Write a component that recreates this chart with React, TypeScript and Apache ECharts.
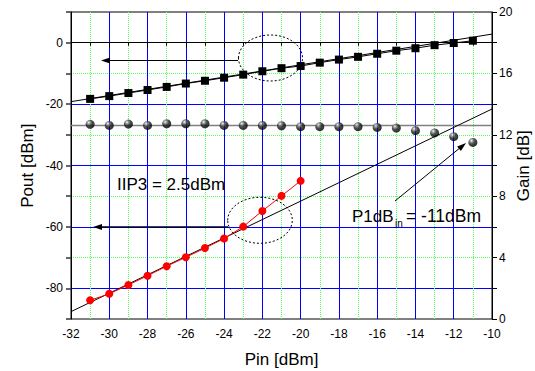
import React, { useEffect, useRef } from "react";
import * as echarts from "echarts";

const FONT = "Liberation Sans, Arial, sans-serif";

// Fundamental output (squares, left axis)
const pinFund = [-31, -30, -29, -28, -27, -26, -25, -24, -23, -22, -21, -20, -19, -18, -17, -16, -15, -14, -13, -12, -11];
const poutFund = [-18.3, -17.4, -16.4, -15.4, -14.4, -13.3, -12.4, -11.4, -10.4, -9.3, -8.3, -7.6, -6.5, -5.5, -4.6, -3.6, -2.6, -1.8, -0.8, -0.1, 0.65];
// Gain (spheres, right axis)
const gainDb = [12.68, 12.61, 12.7, 12.61, 12.72, 12.72, 12.72, 12.61, 12.61, 12.61, 12.59, 12.53, 12.53, 12.53, 12.53, 12.48, 12.44, 12.27, 12.12, 11.88, 11.5];
// Third-order intermod output (red, left axis)
const pinIM3 = [-31, -30, -29, -28, -27, -26, -25, -24, -23, -22, -21, -20];
const poutIM3 = [-83.9, -81.8, -78.9, -75.9, -72.8, -69.9, -66.9, -63.8, -59.9, -54.8, -49.9, -45.0];
// Extrapolation lines
const fitFundX = [-32, -10];
const fitFundY = [-19.2, 2.8];
const fitIM3X = [-32, -10];
const fitIM3Y = [-87.6, -21.6];
const gainRefX = [-32, -10];
const gainRefY = [12.6, 12.6];

const xTicks = { min: -32, max: -10, interval: 2 };
const leftTicks = { min: -90, max: 10, interval: 10 };
const rightTicks = { min: 0, max: 20, interval: 4 };

const zip = (a: number[], b: number[]) => a.map((v, i) => [v, b[i]]);

export default function App() {
  const ref = useRef<HTMLDivElement>(null);
  useEffect(() => {
    const chart = echarts.init(ref.current!, null, { renderer: "svg" });
    const sphere = new echarts.graphic.RadialGradient(0.35, 0.3, 0.65, [
      { offset: 0, color: "#ffffff" },
      { offset: 0.2, color: "#999999" },
      { offset: 0.55, color: "#222222" },
      { offset: 1, color: "#000000" },
    ]);
    const dotted = { color: "#55ff55", type: "dotted", width: 1 };
    const blue = { color: "#0000ff", type: "solid", width: 1 };
    const axisBlack = { lineStyle: { color: "#000", width: 1 } };
    const labelStyle = { color: "#000", fontSize: 12, fontFamily: FONT };
    const nameStyle = { color: "#000", fontSize: 17, fontFamily: FONT };
    chart.setOption({
      animation: false,
      grid: {
        left: 71, right: 43, top: 12, bottom: 52, show: true, borderColor: "#000", borderWidth: 1,
        backgroundColor: "transparent", containLabel: false, outerBoundsMode: "none",
      },
      xAxis: {
        type: "value",
        ...xTicks,
        name: "Pin [dBm]",
        nameLocation: "middle",
        nameGap: 32,
        nameMoveOverlap: false,
        nameTextStyle: nameStyle,
        axisLine: axisBlack,
        axisTick: { inside: false, length: 5, lineStyle: { color: "#000" } },
        minorTick: { show: true, splitNumber: 2, length: 3, lineStyle: { color: "#000" } },
        axisLabel: { ...labelStyle, margin: 9 },
        splitLine: { show: true, lineStyle: blue, showMinLine: false, showMaxLine: false },
        minorSplitLine: { show: true, lineStyle: dotted },
      },
      yAxis: [
        {
          type: "value",
          ...leftTicks,
          position: "left",
          axisLine: { show: true, ...axisBlack },
          axisTick: { show: true, length: 5, lineStyle: { color: "#333", width: 1.5 } },
          axisLabel: { ...labelStyle, margin: 8, formatter: (v: number) => (v % 20 === 0 ? String(v) : "") },
          splitLine: { show: false },
        },
        {
          type: "value",
          ...rightTicks,
          position: "right",
          axisLine: { show: true, ...axisBlack },
          axisTick: { show: true, length: 5, lineStyle: { color: "#000" } },
          minorTick: { show: true, splitNumber: 2, length: 5, lineStyle: { color: "#000" } },
          axisLabel: { ...labelStyle, margin: 7 },
          splitLine: { show: true, lineStyle: dotted, showMinLine: false, showMaxLine: false },
          minorSplitLine: { show: true, lineStyle: blue },
        },
      ],
      series: [
        {
          type: "line", yAxisIndex: 1, data: zip(gainRefX, gainRefY), showSymbol: false, symbol: "none",
          lineStyle: { color: "#808080", width: 1.5 }, z: 2,
        },
        {
          type: "line", yAxisIndex: 0, data: zip(fitFundX, fitFundY), symbol: "none",
          lineStyle: { color: "#000", width: 1 }, z: 3,
        },
        {
          type: "line", yAxisIndex: 0, data: zip(fitIM3X, fitIM3Y), symbol: "none",
          lineStyle: { color: "#000", width: 1 }, z: 3,
        },
        {
          type: "line", yAxisIndex: 0, data: zip(pinFund, poutFund), symbol: "rect", symbolSize: 8,
          itemStyle: { color: "#000" }, lineStyle: { color: "#000", width: 1 }, z: 4,
        },
        {
          type: "scatter", yAxisIndex: 1, data: zip(pinFund, gainDb), symbol: "circle", symbolSize: 9,
          itemStyle: { color: sphere }, z: 4,
        },
        {
          type: "line", yAxisIndex: 0, data: zip(pinIM3, poutIM3), symbol: "circle", symbolSize: 8,
          itemStyle: { color: "#ff0000" }, lineStyle: { color: "#ff0000", width: 1 }, z: 4,
        },
      ],
      graphic: [
        { type: "text", x: 27.5, y: 165.7, rotation: Math.PI / 2, style: { text: "Pout [dBm]", ...nameStyle, fill: "#000", textAlign: "center", textVerticalAlign: "middle" }, z: 11 },
        { type: "text", x: 523, y: 165.7, rotation: Math.PI / 2, style: { text: "Gain [dB]", ...nameStyle, fill: "#000", textAlign: "center", textVerticalAlign: "middle" }, z: 11 },
        { type: "ellipse", shape: { cx: 270.5, cy: 58, rx: 32, ry: 23 }, style: { fill: "none", stroke: "#000", lineWidth: 1, lineDash: [2, 2] }, z: 10 },
        { type: "line", shape: { x1: 238, y1: 60.5, x2: 106, y2: 60.5 }, style: { stroke: "#000", lineWidth: 1 }, z: 10 },
        { type: "polygon", shape: { points: [[101, 60.5], [110, 57.5], [110, 63.5]] }, style: { fill: "#000" }, z: 10 },
        { type: "ellipse", shape: { cx: 260, cy: 220.3, rx: 32.3, ry: 23 }, style: { fill: "none", stroke: "#000", lineWidth: 1, lineDash: [2, 2] }, z: 10 },
        { type: "line", shape: { x1: 228, y1: 227, x2: 98, y2: 227 }, style: { stroke: "#000022", lineWidth: 1.5 }, z: 10 },
        { type: "polygon", shape: { points: [[93, 227], [102, 224], [102, 230]] }, style: { fill: "#000" }, z: 10 },
        { type: "line", shape: { x1: 395, y1: 201, x2: 461, y2: 147 }, style: { stroke: "#000", lineWidth: 1 }, z: 10 },
        { type: "polygon", shape: { points: [[466, 143], [460.9, 151], [457.1, 146.4]] }, style: { fill: "#000" }, z: 10 },
        { type: "text", x: 117, y: 184, style: { text: "IIP3 = 2.5dBm", fontSize: 17, fontFamily: FONT, fill: "#000", textVerticalAlign: "middle" }, z: 11 },
        { type: "text", x: 352, y: 216, style: { text: "P1dB", fontSize: 17, fontFamily: FONT, fill: "#000", textVerticalAlign: "middle" }, z: 11 },
        { type: "text", x: 395, y: 223, style: { text: "in", fontSize: 10, fontFamily: FONT, fill: "#000", textVerticalAlign: "middle" }, z: 11 },
        { type: "text", x: 406, y: 216, style: { text: "= -11dBm", fontSize: 17.5, fontFamily: FONT, fill: "#000", textVerticalAlign: "middle" }, z: 11 },
      ],
    });
    return () => chart.dispose();
  }, []);
  return <div ref={ref} style={{ position: "fixed", left: 0, top: 0, width: 535, height: 371, background: "#fff" }} />;
}
